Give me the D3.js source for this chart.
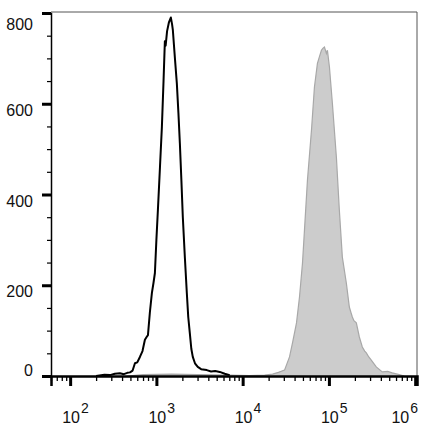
<!DOCTYPE html>
<html>
<head>
<meta charset="utf-8">
<script src="https://cdn.jsdelivr.net/npm/d3@7"></script>
<style>
  html, body { margin: 0; padding: 0; background: #fff; }
  svg { display: block; }
</style>
</head>
<body>
<svg id="chart" width="431" height="432"></svg>
<script>
// ---- data ----
const yTicksMajor = [0, 200, 400, 600, 800];
const xDecades = [2, 3, 4, 5, 6];

// unstained / isotype control (black outline)
const controlX = [200, 250, 290, 330, 378, 420, 460, 494, 530, 564, 600, 644, 690, 736, 770, 798, 840, 887, 925, 961, 1000, 1041, 1100, 1158, 1210, 1254, 1280, 1330, 1400, 1470, 1520, 1552, 1640, 1726, 1800, 1871, 1950, 2025, 2140, 2253, 2340, 2439, 2540, 2642, 2800, 3017, 3300, 3837, 4300, 4800, 5424, 6200, 7075];
const controlY = [0, 3, 2, 5, 6, 4, 7, 8, 12, 28, 30, 42, 55, 80, 86, 90, 140, 183, 205, 227, 300, 366, 460, 549, 650, 738, 728, 760, 780, 790, 775, 762, 700, 645, 580, 513, 430, 350, 260, 183, 130, 95, 60, 42, 28, 20, 15, 13, 10, 11, 9, 5, 2];

// stained sample (grey filled)
const stainedX = [460, 700, 1500, 3000, 7000, 12000, 18000, 22230, 26000, 30600, 34930, 37840, 42100, 45600, 49400, 52100, 56400, 62800, 67950, 73600, 78000, 81900, 85000, 88700, 93600, 96100, 101400, 109700, 122100, 132100, 143100, 159200, 172500, 180000, 186900, 195000, 207900, 225300, 243900, 260000, 271500, 290000, 309900, 353900, 415200, 480000, 541600, 653000, 746000];
const stainedY = [0, 3, 4, 3, 2, 1, 2, 4, 8, 13, 42, 73, 117, 174, 249, 322, 432, 542, 637, 689, 705, 718, 722, 725, 711, 718, 681, 601, 482, 366, 262, 205, 152, 140, 130, 122, 117, 86, 64, 55, 51, 42, 35, 20, 9, 10, 7, 3, 0];

// ---- layout ----
const svg = d3.select("#chart");
const mLeft = 51, mRight = 417, mTop = 12, mBottom = 376;

const x = d3.scaleLog().domain([60, 1.05e6]).range([mLeft, mRight]);
const y = d3.scaleLinear().domain([0, 800]).range([mBottom, 13]);

const font = "'Liberation Sans', Arial, sans-serif";

// plot frame (top and right)
svg.append("line").attr("x1", mLeft).attr("x2", mRight).attr("y1", mTop).attr("y2", mTop)
  .attr("stroke", "#555").attr("stroke-width", 1);
svg.append("line").attr("x1", mRight).attr("x2", mRight).attr("y1", mTop).attr("y2", mBottom)
  .attr("stroke", "#555").attr("stroke-width", 1);

// grey histogram
const stained = stainedX.map((v, i) => [v, stainedY[i]]);
const area = d3.area().x(d => x(d[0])).y0(y(0)).y1(d => y(d[1]));
const line = d3.line().x(d => x(d[0])).y(d => y(d[1]));
svg.append("path").datum(stained).attr("d", area)
  .attr("fill", "#cccccc").attr("stroke", "none");
svg.append("path").datum(stained).attr("d", line)
  .attr("fill", "none").attr("stroke", "#a8a8a8").attr("stroke-width", 1.2);

// black histogram
const control = controlX.map((v, i) => [v, controlY[i]]);
svg.append("path").datum(control).attr("d", line)
  .attr("fill", "none").attr("stroke", "#000").attr("stroke-width", 2)
  .attr("stroke-linejoin", "round");

// ---- y axis ----
const yMinor = d3.range(0, 801, 50).filter(v => !yTicksMajor.includes(v));
const yAxisMajor = d3.axisLeft(y).tickValues(yTicksMajor).tickSize(9).tickFormat("");
const gY = svg.append("g").attr("transform", `translate(${mLeft},0)`).call(yAxisMajor);
gY.select(".domain").attr("stroke", "#000").attr("stroke-width", 1.5);
gY.selectAll(".tick line").attr("stroke", "#000").attr("stroke-width", 3);
const gYm = svg.append("g").attr("transform", `translate(${mLeft},0)`)
  .call(d3.axisLeft(y).tickValues(yMinor).tickSize(4).tickFormat(""));
gYm.select(".domain").remove();
gYm.selectAll(".tick line").attr("stroke", "#000").attr("stroke-width", 1.2);

svg.append("g").selectAll("text").data(yTicksMajor).join("text")
  .attr("x", 33)
  .attr("y", d => d === 0 ? y(d) : y(d) + (d === 800 ? 17 : 12))
  .attr("text-anchor", "end")
  .attr("font-family", font).attr("font-size", 16).attr("fill", "#111")
  .text(d => d);

// ---- x axis ----
const xMajor = xDecades.map(e => Math.pow(10, e));
const xMinor = [];
[1, 2, 3, 4, 5].forEach(e => {
  for (let m = 2; m <= 9; m++) {
    const v = m * Math.pow(10, e);
    if (v >= 60 && v <= 1.05e6) xMinor.push(v);
  }
});
const gX = svg.append("g").attr("transform", `translate(0,${mBottom})`)
  .call(d3.axisBottom(x).tickValues(xMajor).tickSize(10).tickFormat(""));
gX.select(".domain").attr("stroke", "#000").attr("stroke-width", 2.5);
gX.selectAll(".tick line").attr("stroke", "#000").attr("stroke-width", 3);
const gXm = svg.append("g").attr("transform", `translate(0,${mBottom})`)
  .call(d3.axisBottom(x).tickValues(xMinor).tickSize(5).tickFormat(""));
gXm.select(".domain").remove();
gXm.selectAll(".tick line").attr("stroke", "#000").attr("stroke-width", 1.3);

const lastDecade = xDecades[xDecades.length - 1];
const xl = svg.append("g").selectAll("text").data(xDecades).join("text")
  .attr("x", d => d === lastDecade ? mRight + 1 : x(Math.pow(10, d)) - 8)
  .attr("text-anchor", d => d === lastDecade ? "end" : "start")
  .attr("y", 423)
  .attr("font-family", font).attr("fill", "#111");
xl.append("tspan").attr("font-size", 16).text("10");
xl.append("tspan").attr("font-size", 14).attr("dy", -10).attr("dx", 1).text(d => d);
</script>
</body>
</html>
